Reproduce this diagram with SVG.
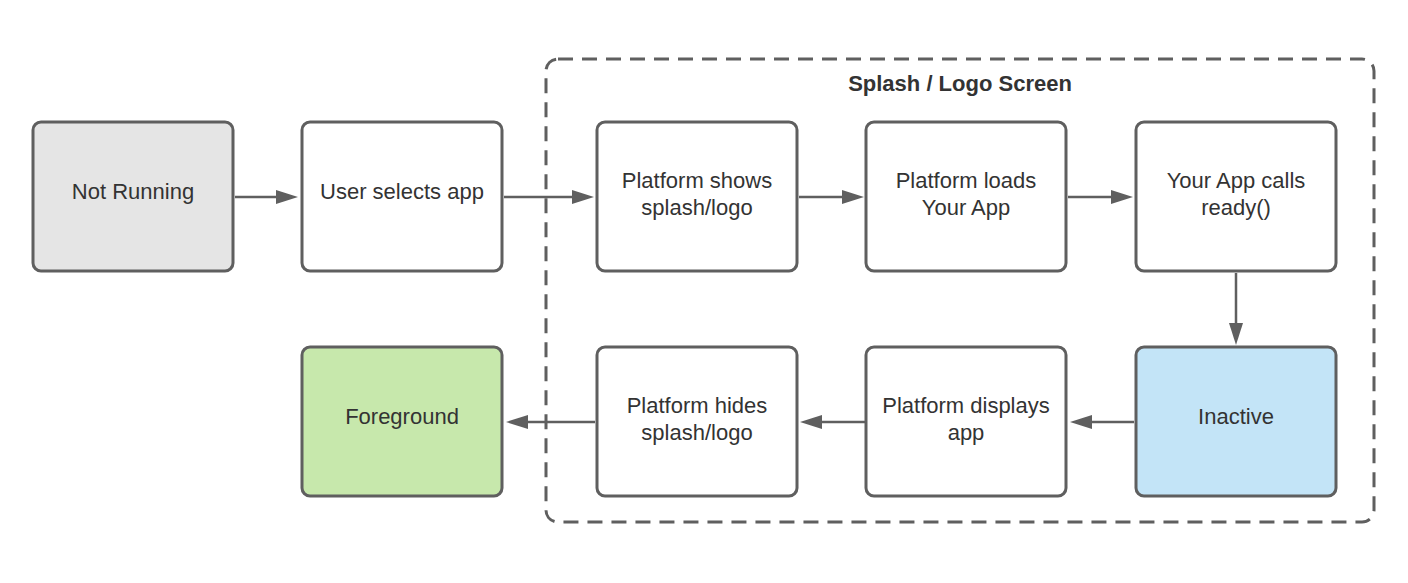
<svg xmlns="http://www.w3.org/2000/svg" width="1408" height="583" viewBox="0 0 1408 583">
<style>
.n{stroke:#5f5f5f;stroke-width:3;fill:#fff}
.t{font-family:"Liberation Sans",Arial,sans-serif;font-size:22px;fill:#333;text-anchor:middle}
.c{stroke:#5f5f5f;stroke-width:2.5;fill:none}
.h{fill:#5f5f5f}
</style>
<rect width="1408" height="583" fill="#fff"/>
<g id="group-splash">
<rect x="546" y="59" width="828" height="463" rx="12" fill="none" stroke="#5f5f5f" stroke-width="3" stroke-dasharray="15 9"/>
<text x="960" y="91" class="t" style="font-weight:bold">Splash / Logo Screen</text>
</g>
<g id="connectors">
<path class="c" d="M235 197 H280"/>
<path class="h" d="M276 190 L298 197 L276 204 Z"/>
<path class="c" d="M504 197 H576"/>
<path class="h" d="M572 190 L594 197 L572 204 Z"/>
<path class="c" d="M799 197 H846"/>
<path class="h" d="M842 190 L864 197 L842 204 Z"/>
<path class="c" d="M1068 197 H1115"/>
<path class="h" d="M1111 190 L1133 197 L1111 204 Z"/>
<path class="c" d="M1236 273 V327"/>
<path class="h" d="M1229 323 L1236 345 L1243 323 Z"/>
<path class="c" d="M1134 422 H1088"/>
<path class="h" d="M1092 415 L1070 422 L1092 429 Z"/>
<path class="c" d="M865 422 H818"/>
<path class="h" d="M822 415 L800 422 L822 429 Z"/>
<path class="c" d="M595 422 H524"/>
<path class="h" d="M528 415 L506 422 L528 429 Z"/>
</g>
<g id="not-running"><rect class="n" x="33" y="122" width="200" height="149" rx="8" style="fill:#e5e5e5"/><text class="t" x="133" y="199">Not Running</text></g>
<g id="user-selects"><rect class="n" x="302" y="122" width="200" height="149" rx="8"/><text class="t" x="402" y="199">User selects app</text></g>
<g id="platform-shows"><rect class="n" x="597" y="122" width="200" height="149" rx="8"/><text class="t" x="697" y="188">Platform shows</text><text class="t" x="697" y="215">splash/logo</text></g>
<g id="platform-loads"><rect class="n" x="866" y="122" width="200" height="149" rx="8"/><text class="t" x="966" y="188">Platform loads</text><text class="t" x="966" y="215">Your App</text></g>
<g id="app-ready"><rect class="n" x="1136" y="122" width="200" height="149" rx="8"/><text class="t" x="1236" y="188">Your App calls</text><text class="t" x="1236" y="215">ready()</text></g>
<g id="inactive"><rect class="n" x="1136" y="347" width="200" height="149" rx="8" style="fill:#c3e4f7"/><text class="t" x="1236" y="424">Inactive</text></g>
<g id="platform-displays"><rect class="n" x="866" y="347" width="200" height="149" rx="8"/><text class="t" x="966" y="413">Platform displays</text><text class="t" x="966" y="440">app</text></g>
<g id="platform-hides"><rect class="n" x="597" y="347" width="200" height="149" rx="8"/><text class="t" x="697" y="413">Platform hides</text><text class="t" x="697" y="440">splash/logo</text></g>
<g id="foreground"><rect class="n" x="302" y="347" width="200" height="149" rx="8" style="fill:#c7e8ac"/><text class="t" x="402" y="424">Foreground</text></g>
</svg>
